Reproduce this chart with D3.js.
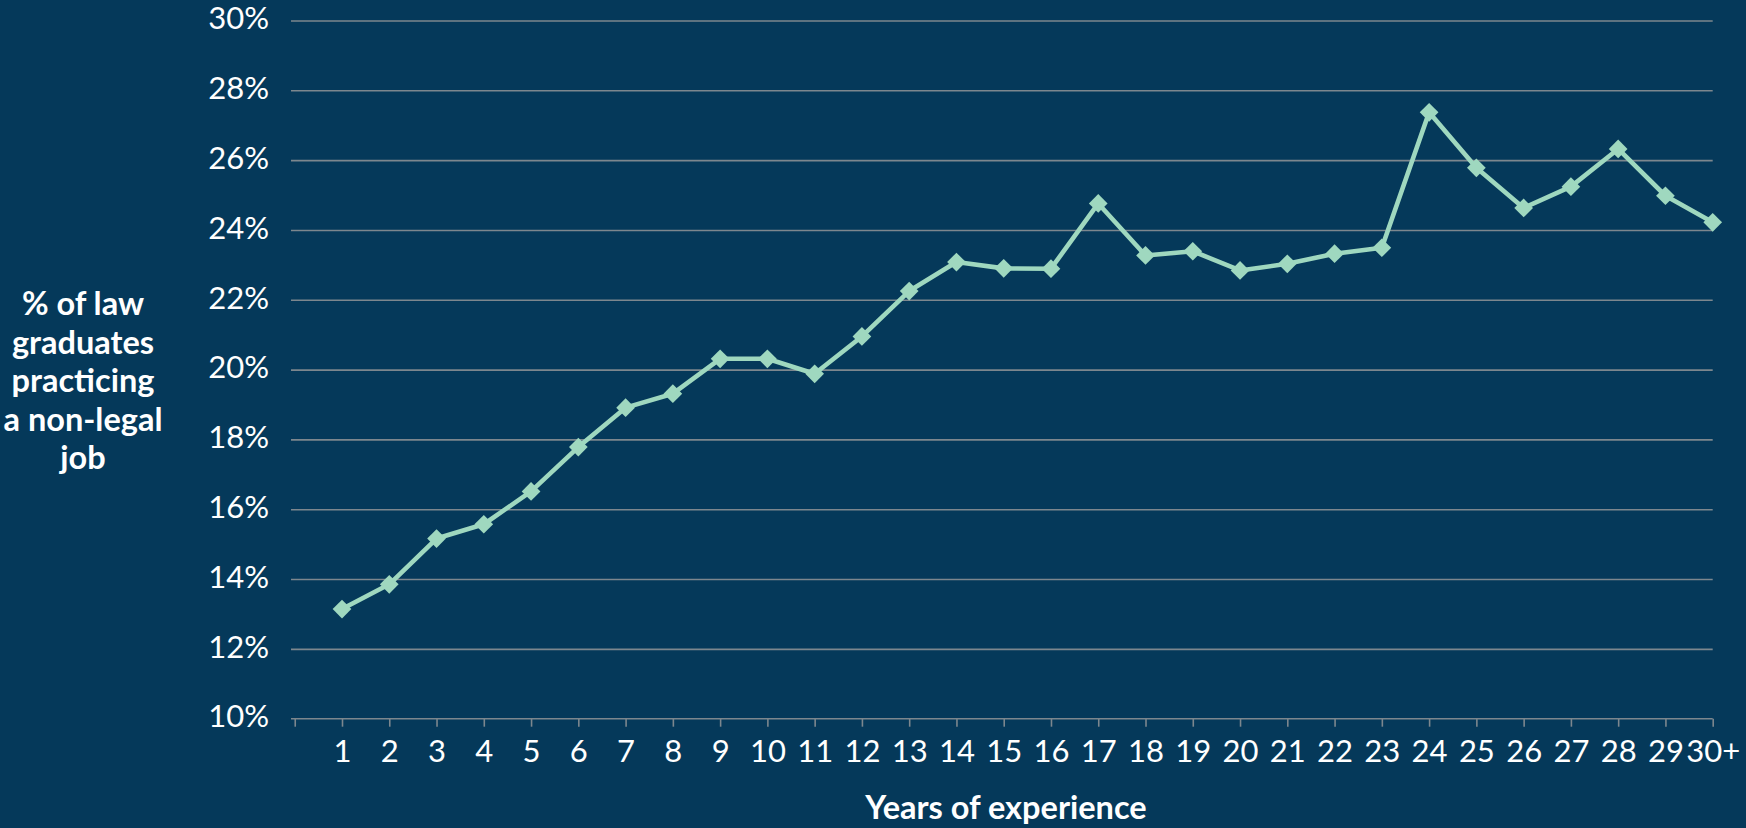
<!DOCTYPE html>
<html>
<head>
<meta charset="utf-8">
<script src="https://cdn.jsdelivr.net/npm/d3@7"></script>
<style>
  body { margin: 0; background: #063a5b; }
  svg { display: block; }
  .tick text { font-family: Lato, sans-serif; fill: #ffffff; }
</style>
</head>
<body>
<div id="chart"></div>
<script>
// chart data
var years = ["1", "2", "3", "4", "5", "6", "7", "8", "9", "10",
  "11", "12", "13", "14", "15", "16", "17", "18", "19", "20",
  "21", "22", "23", "24", "25", "26", "27", "28", "29", "30+"];
var nonLegalPct = [13.14, 13.85, 15.16, 15.57, 16.51, 17.78, 18.91, 19.31, 20.31, 20.31,
  19.88, 20.95, 22.25, 23.08, 22.9, 22.89, 24.76, 23.27, 23.39, 22.84,
  23.03, 23.32, 23.49, 27.37, 25.78, 24.63, 25.24, 26.32, 24.98, 24.22];
var yTicks = [10, 12, 14, 16, 18, 20, 22, 24, 26, 28, 30];
var yTitleLines = ["% of law", "graduates", "practicing", "a non-legal", "job"];
var xTitle = "Years of experience";

// size of svg
var svgWidth = 1746;
var svgHeight = 828;

var margin = { top: 20.5, right: 33.3, bottom: 109.3, left: 291 };
var plotRight = svgWidth - margin.right;
var plotBottom = svgHeight - margin.bottom;

var svg = d3.select("#chart")
  .append("svg")
  .attr("width", svgWidth)
  .attr("height", svgHeight);

svg.append("rect")
  .attr("width", svgWidth)
  .attr("height", svgHeight)
  .attr("fill", "#05395a");

// scales: point i sits on tick i, tick 0 is the empty slot at the left
var xScale = d3.scaleLinear()
  .domain([1, years.length])
  .range([342, plotRight]);

var yScale = d3.scaleLinear()
  .domain([10, 30])
  .range([plotBottom, margin.top]);

// y axis with gridlines
var yAxis = svg.append("g")
  .attr("transform", `translate(${margin.left}, 0)`)
  .call(d3.axisLeft(yScale)
    .tickValues(yTicks.slice(1))
    .tickSize(-(plotRight - margin.left))
    .tickPadding(22)
    .tickFormat(d => d + "%"));

yAxis.select(".domain").remove();
yAxis.selectAll(".tick line")
  .attr("stroke", "#7d878e")
  .attr("stroke-width", 1.6);
yAxis.selectAll(".tick text")
  .attr("font-size", "31px")
  .attr("dy", "0.27em");

// 10% label sits on the x axis line
svg.append("text")
  .attr("x", margin.left - 22)
  .attr("y", yScale(yTicks[0]))
  .attr("dy", "0.27em")
  .attr("text-anchor", "end")
  .attr("font-family", "Lato, sans-serif")
  .attr("font-size", "31px")
  .attr("fill", "#ffffff")
  .text(yTicks[0] + "%");

// x axis
var xAxis = svg.append("g")
  .attr("transform", `translate(0, ${plotBottom})`)
  .call(d3.axisBottom(xScale)
    .tickValues(d3.range(0, years.length + 1))
    .tickSize(8)
    .tickPadding(13)
    .tickFormat(d => d === 0 ? "" : years[d - 1]));

xAxis.select(".domain")
  .attr("d", `M${margin.left},0H${plotRight}`)
  .attr("stroke", "#7d878e")
  .attr("stroke-width", 1.6);
xAxis.selectAll(".tick line")
  .attr("stroke", "#7d878e")
  .attr("stroke-width", 1.6);
xAxis.selectAll(".tick text")
  .attr("font-size", "31px");

// line
var line = d3.line()
  .x((d, i) => xScale(i + 1))
  .y(d => yScale(d));

svg.append("path")
  .datum(nonLegalPct)
  .attr("d", line)
  .attr("fill", "none")
  .attr("stroke", "#9fd8bf")
  .attr("stroke-width", 4.6)
  .attr("stroke-linejoin", "round");

// diamond markers
svg.append("g")
  .selectAll("path")
  .data(nonLegalPct)
  .enter()
  .append("path")
  .attr("d", d3.symbol(d3.symbolSquare, 175))
  .attr("transform", (d, i) => `translate(${xScale(i + 1)}, ${yScale(d)}) rotate(45)`)
  .attr("fill", "#9fd8bf");

// y axis title
var yTitle = svg.append("text")
  .attr("text-anchor", "middle")
  .attr("font-family", "Lato, sans-serif")
  .attr("font-weight", "bold")
  .attr("font-size", "32.5px")
  .attr("fill", "#ffffff");

yTitle.selectAll("tspan")
  .data(yTitleLines)
  .enter()
  .append("tspan")
  .attr("x", 83)
  .attr("y", (d, i) => 315 + i * 38.5)
  .text(d => d);

// x axis title
svg.append("text")
  .attr("x", 1006)
  .attr("y", 819)
  .attr("text-anchor", "middle")
  .attr("font-family", "Lato, sans-serif")
  .attr("font-weight", "bold")
  .attr("font-size", "32.5px")
  .attr("fill", "#ffffff")
  .text(xTitle);
</script>
</body>
</html>
